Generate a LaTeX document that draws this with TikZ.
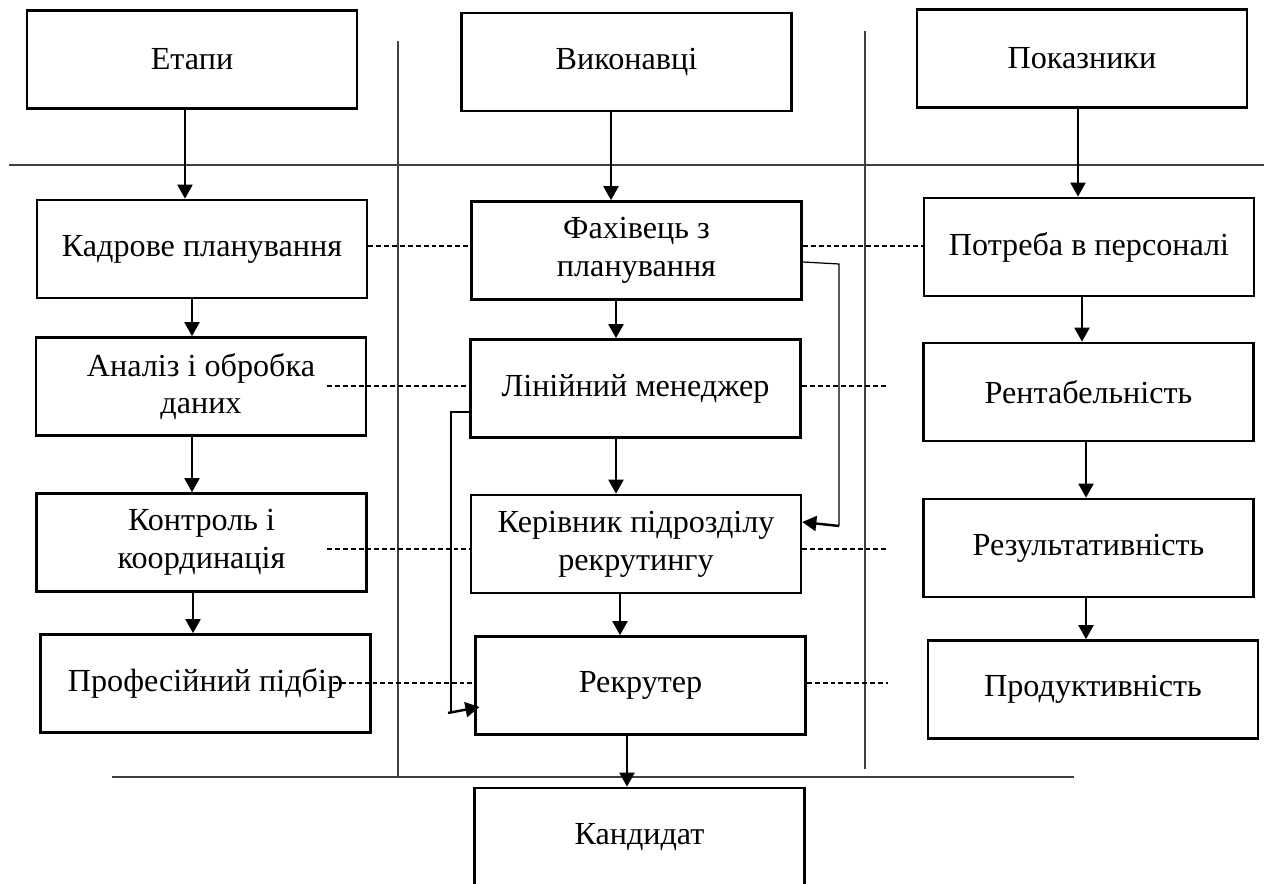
\documentclass[tikz,border=0pt]{standalone}
\usepackage{fontspec}
\setmainfont{Liberation Serif}
\usetikzlibrary{arrows.meta}

\tikzset{
  box/.style={draw, line width=1.5pt, minimum width=6.6cm, minimum height=1.96cm,
    inner sep=0pt, align=center, font=\fontsize{18.3}{21.5}\selectfont},
  arr/.style={line width=1.4pt, -{Triangle[width=8.5pt,length=8pt]}},
  sep/.style={line width=0.8pt, black!75},
  link/.style={line width=0.7pt},
  dashlink/.style={line width=0.6pt, dash pattern=on 2.8pt off 1.7pt},
}

\begin{document}
\begin{tikzpicture}[x=0.02cm, y=-0.02cm]
\useasboundingbox (0,0) rectangle (1269,884);

% separating lines
\draw[sep] (9,165) -- (1264,165);
\draw[sep] (112,777) -- (1074,777);
\draw[sep] (398,41) -- (398,778);
\draw[sep] (865,31) -- (865,769);

% left column
\node[box] (etapy) at (192,59.5) {Етапи};
\node[box] (kadr) at (202,249) {Кадрове планування};
\node[box] (analiz) at (201,386.5) {Аналіз і обробка\\даних};
\node[box] (kontrol) at (201.5,542.5) {Контроль і\\координація};
\node[box] (pidbir) at (205.5,683.5) {Професійний підбір};

% middle column
\node[box] (vykon) at (626.5,62) {Виконавці};
\node[box] (fakh) at (636.5,250.5) {Фахівець з\\планування};
\node[box] (menedzh) at (635.5,388.5) {Лінійний менеджер};
\node[box] (kerivn) at (636,544) {Керівник підрозділу\\рекрутингу};
\node[box] (rekrut) at (640.5,685.5) {Рекрутер};
\node[box] (kandyd) at (639.5,837) {Кандидат};

% right column
\node[box] (pokaz) at (1082,58.5) {Показники};
\node[box] (potreba) at (1089,247) {Потреба в персоналі};
\node[box] (rentab) at (1088.5,392) {Рентабельність};
\node[box] (rezult) at (1088.5,548) {Результативність};
\node[box] (produkt) at (1093,689.5) {Продуктивність};

% arrows down the columns
\draw[arr] (etapy.south -| 185,0) -- (kadr.north -| 185,0);
\draw[arr] (kadr.south -| 192,0) -- (analiz.north -| 192,0);
\draw[arr] (analiz.south -| 192,0) -- (kontrol.north -| 192,0);
\draw[arr] (kontrol.south -| 193,0) -- (pidbir.north -| 193,0);

\draw[arr] (vykon.south -| 611,0) -- (fakh.north -| 611,0);
\draw[arr] (fakh.south -| 616,0) -- (menedzh.north -| 616,0);
\draw[arr] (menedzh.south -| 616,0) -- (kerivn.north -| 616,0);
\draw[arr] (kerivn.south -| 620,0) -- (rekrut.north -| 620,0);
\draw[arr] (rekrut.south -| 627,0) -- (kandyd.north -| 627,0);

\draw[arr] (pokaz.south -| 1078,0) -- (potreba.north -| 1078,0);
\draw[arr] (potreba.south -| 1082,0) -- (rentab.north -| 1082,0);
\draw[arr] (rentab.south -| 1086,0) -- (rezult.north -| 1086,0);
\draw[arr] (rezult.south -| 1086,0) -- (produkt.north -| 1086,0);

% side links
\coordinate (fk1) at (839,264);
\coordinate (fk2) at (839,526);
\draw[link] (fakh.east |- 0,262) -- (fk1) -- (fk2);
\draw[arr] (fk2) -- (kerivn.east |- 0,522);

\coordinate (mr1) at (451,412);
\coordinate (mr2) at (451,712);
\coordinate (mr3) at (448,713);
\draw[link] (menedzh.west |- 0,412) -- (mr1) -- (mr2);
\draw[arr] (mr3) -- ([xshift=3pt]rekrut.west |- 0,707);

% dashed rows
\coordinate (an) at (327,386);
\coordinate (ko) at (327,549);
\coordinate (pi) at (333,683);
\coordinate (me) at (888,386);
\coordinate (ke) at (888,549);
\coordinate (re) at (888,683);
\draw[dashlink] (kadr.east |- 0,246) -- (fakh.west |- 0,246);
\draw[dashlink] (fakh.east |- 0,246) -- (potreba.west |- 0,246);
\draw[dashlink] (an) -- (menedzh.west |- an);
\draw[dashlink] (menedzh.east |- me) -- (me);
\draw[dashlink] (ko) -- (kerivn.west |- ko);
\draw[dashlink] (kerivn.east |- ke) -- (ke);
\draw[dashlink] (pi) -- (rekrut.west |- pi);
\draw[dashlink] (rekrut.east |- re) -- (re);

\end{tikzpicture}
\end{document}
